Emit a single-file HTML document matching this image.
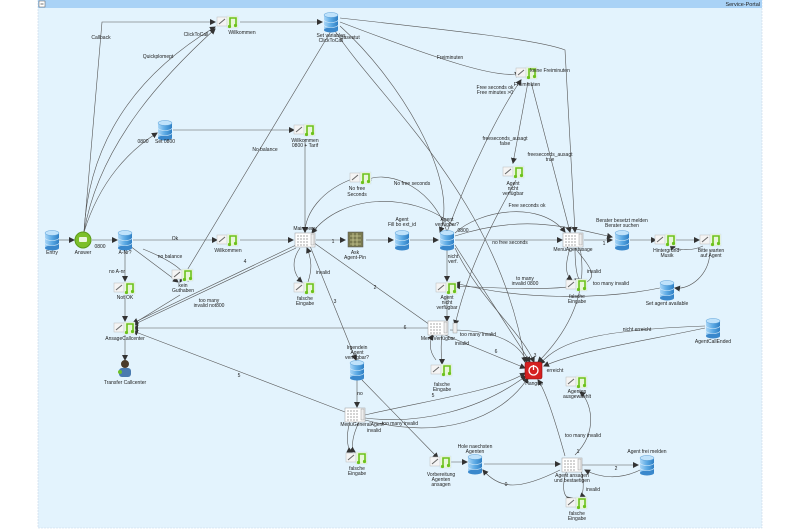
<!DOCTYPE html>
<html><head><meta charset="utf-8"><style>
html,body{margin:0;padding:0;background:#fff;}
svg{display:block;font-family:"Liberation Sans",sans-serif;}
text{font-size:5px;fill:#222;text-anchor:middle;}
</style></head><body>
<svg width="800" height="530" viewBox="0 0 800 530" xmlns="http://www.w3.org/2000/svg">
<defs>
<linearGradient id="dbg" x1="0" x2="1"><stop offset="0" stop-color="#a9d6f7"/><stop offset="0.5" stop-color="#5aa9e4"/><stop offset="1" stop-color="#2f7fc4"/></linearGradient>
<marker id="a" markerWidth="6" markerHeight="6" refX="5" refY="3" orient="auto" markerUnits="userSpaceOnUse"><path d="M0,0 L6,3 L0,6 z" fill="#333"/></marker>
<g id="db"><rect x="-7" y="-7" width="14" height="15" fill="url(#dbg)"/><ellipse cx="0" cy="8" rx="7" ry="2.5" fill="#3a88cc"/><ellipse cx="0" cy="-7" rx="7" ry="2.5" fill="#bfe2fb" stroke="#5aa0d8" stroke-width="0.5"/><path d="M-7,-2 a7,2.5 0 0 0 14,0 M-7,3 a7,2.5 0 0 0 14,0" fill="none" stroke="#d6ecfb" stroke-width="0.6"/></g>
<g id="au"><rect x="-11" y="-5" width="10" height="9" fill="#f4f4f4" stroke="#bbb" stroke-width="0.5"/><path d="M-9,2 l6,-5" stroke="#666" stroke-width="1"/><rect x="-1" y="-6" width="11" height="12" fill="#e8f6d8" stroke="#cde" stroke-width="0.4"/><path d="M2,4 v-8 h6 v7" fill="none" stroke="#6cc21c" stroke-width="1.6"/><circle cx="1.5" cy="4.5" r="1.6" fill="#6cc21c"/><circle cx="7.5" cy="3.5" r="1.6" fill="#6cc21c"/></g>
<g id="mn"><rect x="-10" y="-7" width="20" height="14" fill="#fff" stroke="#999" stroke-width="0.5"/><path d="M-8,-4 h12 M-8,-1 h12 M-8,2 h12 M-8,5 h12" stroke="#aaa" stroke-width="1" stroke-dasharray="2,1"/><rect x="6" y="-6" width="3" height="11" fill="#eee" stroke="#888" stroke-width="0.4"/></g>
</defs>
<rect x="0" y="0" width="800" height="530" fill="#fff"/>
<rect x="38" y="0" width="724" height="528" fill="#e3f3fd" stroke="#c8d8e8" stroke-width="0.6" stroke-dasharray="2,1"/>
<rect x="38" y="0" width="724" height="8" fill="#a9d2f6"/>
<rect x="39" y="1" width="6" height="6" fill="#fff" stroke="#555" stroke-width="0.5"/><path d="M40.5,4 h3" stroke="#333" stroke-width="0.7"/>
<text x="760" y="6" style="text-anchor:end;font-size:5.5px">Service-Portal</text>

<g fill="none" stroke="#555" stroke-width="0.6" marker-end="url(#a)">
<path d="M58,240 H74"/>
<path d="M92,240 H117"/>
<path d="M84,232 L102,22 H215"/>
<path d="M84,232 C90,120 160,60 215,27"/>
<path d="M84,232 C100,140 170,70 215,29"/>
<path d="M84,232 C100,180 130,150 157,133"/>
<path d="M173,130 H294"/>
<path d="M305,139 V232"/>
<path d="M240,22 H322"/>
<path d="M133,240 H217"/>
<path d="M240,240 H293"/>
<path d="M125,248 V281"/>
<path d="M125,295 V321"/>
<path d="M125,335 V360"/>
<path d="M130,246 L178,282"/>
<path d="M143,249 C170,260 185,270 188,281"/>
<path d="M180,295 L133,324"/>
<path d="M331,31 L180,282"/>
<path d="M296,245 L133,323"/>
<path d="M296,248 L133,325"/>
<path d="M430,328 L133,328"/>
<path d="M345,412 L133,331"/>
<path d="M316,240 H345"/>
<path d="M366,240 H393"/>
<path d="M410,240 H438"/>
<path d="M455,240 H562"/>
<path d="M455,236 C520,215 560,225 612,237"/>
<path d="M584,240 H612"/>
<path d="M630,240 H656"/>
<path d="M676,240 H699"/>
<path d="M703,246 C690,252 675,250 670,245"/>
<path d="M447,250 V281"/>
<path d="M447,295 V321"/>
<path d="M442,335 C440,350 442,360 442,364"/>
<path d="M436,360 C428,350 430,340 433,335"/>
<path d="M300,248 C290,262 294,275 302,282"/>
<path d="M308,282 C312,270 312,260 307,248"/>
<path d="M340,22 C440,60 500,80 520,73"/>
<path d="M340,18 C450,30 540,40 565,50 L575,232"/>
<path d="M340,26 C400,80 460,180 440,232"/>
<path d="M335,31 C380,100 500,200 525,362"/>
<path d="M447,232 C470,170 500,110 521,80"/>
<path d="M528,82 L513,163"/>
<path d="M531,82 L570,232"/>
<path d="M516,180 C500,210 470,260 455,325"/>
<path d="M455,233 C480,210 540,200 565,232"/>
<path d="M447,232 C430,180 380,170 366,181"/>
<path d="M453,225 C410,190 340,195 312,233"/>
<path d="M355,178 C320,190 305,215 305,232"/>
<path d="M310,240 L440,332"/>
<path d="M310,246 L356,360"/>
<path d="M357,380 V407"/>
<path d="M362,380 L438,458"/>
<path d="M449,462 L467,462"/>
<path d="M484,464 H560"/>
<path d="M560,470 C520,490 500,490 483,470"/>
<path d="M582,465 H638"/>
<path d="M640,470 C620,480 600,478 585,470"/>
<path d="M567,470 C560,490 565,500 572,498"/>
<path d="M581,470 C585,485 583,495 580,498"/>
<path d="M575,455 C600,430 590,400 580,392"/>
<path d="M565,456 C555,420 545,390 538,380"/>
<path d="M450,330 C500,330 520,345 527,362"/>
<path d="M445,335 L525,368"/>
<path d="M365,415 C430,400 500,390 525,373"/>
<path d="M365,418 C420,425 480,410 526,376"/>
<path d="M365,420 C440,440 500,420 528,378"/>
<path d="M705,328 C650,340 580,350 544,366"/>
<path d="M705,326 C600,330 560,340 540,364"/>
<path d="M660,288 C600,300 520,300 455,283"/>
<path d="M710,250 C710,275 690,290 675,288"/>
<path d="M580,248 C590,300 560,340 538,362"/>
<path d="M575,248 C575,270 578,280 580,279"/>
<path d="M570,248 C565,265 565,275 572,280"/>
<path d="M455,248 C480,300 520,330 534,362"/>
<path d="M455,245 C490,300 510,330 530,362"/>
<path d="M360,420 C350,440 352,450 355,452"/>
<path d="M350,420 C345,440 348,450 352,452"/>
<path d="M575,248 C600,280 620,295 455,286"/>
</g>

<use href="#db" x="52" y="240"/><text x="52" y="254">Entry</text>
<circle cx="83" cy="240" r="8" fill="#7cbf2a" stroke="#5a9a1a" stroke-width="1"/><rect x="79" y="237" width="8" height="5" rx="1" fill="#fff" opacity="0.85"/><text x="83" y="254">Answer</text>
<text x="100" y="248">0800</text>
<use href="#db" x="125" y="240"/><text x="125" y="254">A-Nr?</text>
<text x="175" y="240">Ok</text>
<use href="#au" x="228" y="240"/><text x="228" y="252">Willkommen</text>
<use href="#au" x="228" y="22"/><text x="242" y="34">Willkommen</text>
<text x="101" y="39">Callback</text><text x="196" y="36">ClickToCall</text><text x="158" y="58">Quickplomept</text>
<use href="#db" x="331" y="22"/><text x="331" y="37">Set variables</text><text x="331" y="42">ClickToCall</text><text x="350" y="39">Basestut</text>
<use href="#db" x="165" y="130"/><text x="165" y="143">Set 0800</text><text x="143" y="143">0800</text>
<use href="#au" x="305" y="130"/><text x="305" y="142">Willkommen</text><text x="305" y="147">0800 + Tarif</text>
<text x="265" y="151">No balance</text>
<use href="#au" x="361" y="178"/><text x="357" y="190">No free</text><text x="357" y="196">Seconds</text>
<text x="412" y="185">No free seconds</text>
<use href="#mn" x="305" y="240"/><text x="305" y="230">Mainmenu</text><text x="333" y="243">1</text>
<rect x="348" y="232" width="15" height="15" fill="#7a7a50" stroke="#555" stroke-width="0.5"/><path d="M350,236 h11 M350,240 h11 M350,244 h11 M353,233 v13 M357,233 v13" stroke="#c8c890" stroke-width="0.8"/><text x="355" y="254">Ask</text><text x="355" y="259">Agent-Pin</text>
<use href="#db" x="402" y="240"/><text x="402" y="221">Agent</text><text x="402" y="226">Fill bo ext_id</text>
<use href="#db" x="447" y="240"/><text x="447" y="221">Agent</text><text x="447" y="226">verfügbar?</text><text x="463" y="232">0800</text>
<text x="510" y="244">no free seconds</text>
<text x="450" y="59">Freiminuten</text>
<use href="#au" x="527" y="73"/><text x="550" y="72">keine Freiminuten</text><text x="527" y="86">Freiminuten</text><text x="495" y="89">Free seconds ok</text><text x="495" y="94">Free minutes &gt;0</text>
<text x="505" y="140">freeseconds_ausagt</text><text x="505" y="145">false</text><text x="550" y="156">freeseconds_ausagt</text><text x="550" y="161">true</text>
<use href="#au" x="514" y="172"/><text x="513" y="185">Agent</text><text x="513" y="190">nicht</text><text x="513" y="195">verfügbar</text>
<text x="527" y="207">Free seconds ok</text>
<use href="#mn" x="573" y="240"/><text x="573" y="251">MenuAgentusage</text><text x="604" y="245">1</text>
<use href="#db" x="622" y="240"/><text x="622" y="222">Berater besetzt melden</text><text x="622" y="227">Berater suchen</text>
<use href="#au" x="666" y="240"/><text x="667" y="252">Hintergrund-</text><text x="667" y="257">Musik</text>
<use href="#au" x="711" y="240"/><text x="711" y="252">Bitte warten</text><text x="711" y="257">auf Agent</text>
<text x="117" y="273">no A-nr</text><text x="170" y="258">no balance</text>
<use href="#au" x="125" y="288"/><text x="125" y="299">Not OK</text>
<use href="#au" x="183" y="275"/><text x="183" y="287">kein</text><text x="183" y="292">Guthaben</text>
<text x="245" y="263">4</text><text x="209" y="302">too many</text><text x="209" y="307">invalid not800</text>
<use href="#au" x="305" y="288"/><text x="305" y="300">falsche</text><text x="305" y="305">Eingabe</text><text x="323" y="274">invalid</text>
<use href="#au" x="125" y="328"/><text x="125" y="340">AnsageCallcenter</text>
<circle cx="125" cy="364" r="4" fill="#4a3a2a"/><rect x="119" y="368" width="12" height="9" rx="3" fill="#4a7ab0"/><circle cx="120" cy="372" r="2" fill="#6cbf2a"/><text x="125" y="384">Transfer Callcenter</text>
<text x="335" y="303">3</text><text x="375" y="289">2</text><text x="239" y="377">5</text>
<use href="#au" x="447" y="288"/><text x="447" y="299">Agent</text><text x="447" y="304">nicht</text><text x="447" y="309">verfügbar</text>
<text x="453" y="258">nicht</text><text x="453" y="263">verf.</text><text x="525" y="280">to many</text><text x="525" y="285">invalid 0800</text>
<use href="#au" x="577" y="285"/><text x="577" y="298">falsche</text><text x="577" y="303">Eingabe</text><text x="594" y="273">invalid</text><text x="611" y="285">too many invalid</text>
<use href="#db" x="667" y="290"/><text x="667" y="305">Set agent available</text>
<use href="#mn" x="438" y="328"/><rect x="453" y="323" width="4" height="10" fill="#eee" stroke="#888" stroke-width="0.4"/><text x="438" y="340">MenuVerfügbar</text><text x="478" y="336">too many invalid</text><text x="462" y="345">invalid</text><text x="405" y="329">6</text><text x="496" y="353">6</text>
<use href="#db" x="713" y="328"/><text x="713" y="343">AgentCallEnded</text><text x="637" y="331">nicht erreicht</text>
<use href="#au" x="442" y="370"/><text x="442" y="386">falsche</text><text x="442" y="391">Eingabe</text>
<use href="#db" x="357" y="370"/><text x="357" y="349">Irgendein</text><text x="357" y="354">Agent</text><text x="357" y="359">verfügbar?</text><text x="360" y="395">no</text>
<rect x="525" y="362" width="17" height="17" rx="2" fill="#d42020" stroke="#8a1010" stroke-width="0.6"/><circle cx="533.5" cy="370.5" r="4.5" fill="none" stroke="#fff" stroke-width="1.3"/><path d="M533.5,365 v5" stroke="#fff" stroke-width="1.3"/><text x="534" y="385">Hangup</text><text x="555" y="372">erreicht</text><text x="535" y="357">3</text><text x="433" y="397">5</text>
<use href="#au" x="577" y="382"/><text x="577" y="393">Agenten</text><text x="577" y="398">ausgewaehlt</text>
<use href="#mn" x="355" y="415"/><text x="362" y="426">MenuGeneralAgent</text><text x="374" y="432">invalid</text><text x="400" y="425">too many invalid</text>
<use href="#au" x="357" y="458"/><text x="357" y="470">falsche</text><text x="357" y="475">Eingabe</text>
<use href="#au" x="441" y="462"/><text x="441" y="476">Vorbereitung</text><text x="441" y="481">Agenten</text><text x="441" y="486">ansagen</text>
<use href="#db" x="475" y="464"/><text x="475" y="448">Hole naechsten</text><text x="475" y="453">Agenten</text><text x="506" y="486">0</text>
<use href="#mn" x="572" y="465"/><text x="572" y="477">Agent ansagen</text><text x="572" y="482">und bestaetigen</text><text x="578" y="453">1</text><text x="583" y="437">too many invalid</text><text x="593" y="491">invalid</text><text x="616" y="470">2</text>
<use href="#db" x="647" y="465"/><text x="647" y="453">Agent frei melden</text>
<use href="#au" x="577" y="503"/><text x="577" y="515">falsche</text><text x="577" y="520">Eingabe</text>
</svg>
</body></html>
